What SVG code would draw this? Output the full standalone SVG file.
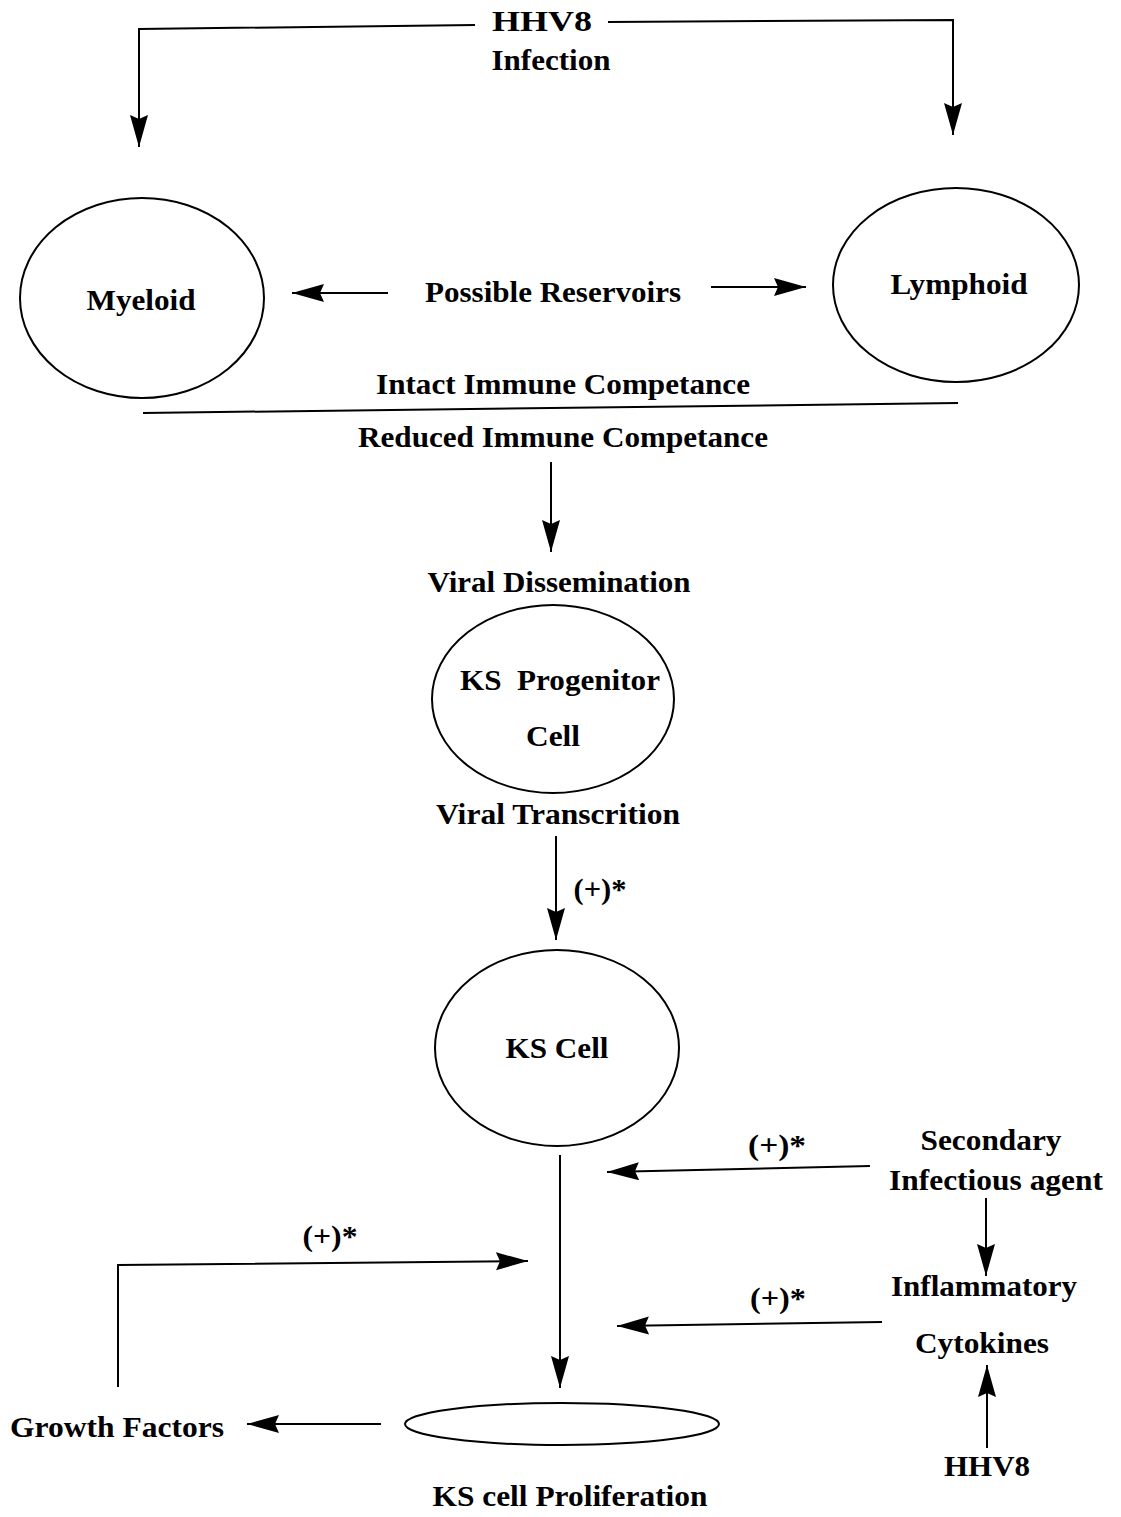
<svg xmlns="http://www.w3.org/2000/svg" width="1121" height="1517" viewBox="0 0 1121 1517">
<style>
text{font-family:"Liberation Serif","Times New Roman",serif;font-weight:bold;font-size:29px;fill:#000;text-anchor:middle}
.c{fill:none;stroke:#000;stroke-width:2}
.n{fill:none;stroke:#000;stroke-width:2}
</style>
<defs>
<marker id="ah" markerUnits="userSpaceOnUse" markerWidth="34" markerHeight="20" refX="32" refY="9" orient="auto">
<path d="M0,0 L32,9 L0,18 L4,9 z" fill="#000"/>
</marker>
</defs>
<rect width="1121" height="1517" fill="#fff"/>

<g id="hhv8-top"><text x="542" y="31" textLength="100" lengthAdjust="spacingAndGlyphs">HHV8</text><text x="551" y="70" textLength="119" lengthAdjust="spacingAndGlyphs">Infection</text></g>
<g id="myeloid"><ellipse class="n" cx="142" cy="298" rx="122" ry="100"/><text x="141" y="310" textLength="109" lengthAdjust="spacingAndGlyphs">Myeloid</text></g>
<g id="lymphoid"><ellipse class="n" cx="956" cy="285" rx="123" ry="97"/><text x="959" y="294" textLength="137" lengthAdjust="spacingAndGlyphs">Lymphoid</text></g>
<g id="reservoirs"><text x="553" y="302" textLength="256" lengthAdjust="spacingAndGlyphs">Possible Reservoirs</text></g>
<g id="intact"><text x="563" y="394" textLength="374" lengthAdjust="spacingAndGlyphs">Intact Immune Competance</text></g>
<g id="reduced"><text x="563" y="447" textLength="410" lengthAdjust="spacingAndGlyphs">Reduced Immune Competance</text></g>
<g id="dissemination"><text x="559" y="592" textLength="263" lengthAdjust="spacingAndGlyphs">Viral Dissemination</text></g>
<g id="progenitor"><ellipse class="n" cx="553" cy="699" rx="121" ry="94"/><text x="560" y="690" textLength="200" lengthAdjust="spacingAndGlyphs" xml:space="preserve">KS  Progenitor</text><text x="553" y="746" textLength="54" lengthAdjust="spacingAndGlyphs">Cell</text></g>
<g id="transcription"><text x="558" y="824" textLength="244" lengthAdjust="spacingAndGlyphs">Viral Transcrition</text></g>
<g id="kscell"><ellipse class="n" cx="557" cy="1048" rx="122" ry="98"/><text x="557" y="1058" textLength="103" lengthAdjust="spacingAndGlyphs">KS Cell</text></g>
<g id="secondary"><text x="991" y="1150" textLength="141" lengthAdjust="spacingAndGlyphs">Secondary</text><text x="996" y="1190" textLength="214" lengthAdjust="spacingAndGlyphs">Infectious agent</text></g>
<g id="inflammatory"><text x="984" y="1296" textLength="186" lengthAdjust="spacingAndGlyphs">Inflammatory</text><text x="982" y="1353" textLength="134" lengthAdjust="spacingAndGlyphs">Cytokines</text></g>
<g id="hhv8-bottom"><text x="987" y="1476" textLength="86" lengthAdjust="spacingAndGlyphs">HHV8</text></g>
<g id="growth"><text x="117" y="1437" textLength="214" lengthAdjust="spacingAndGlyphs">Growth Factors</text></g>
<g id="proliferation"><ellipse class="n" cx="562" cy="1424" rx="157" ry="21"/><text x="570" y="1506" textLength="275" lengthAdjust="spacingAndGlyphs">KS cell Proliferation</text></g>

<g id="connectors">
<path class="c" d="M475,25 L139,29 L139,147" marker-end="url(#ah)"/>
<path class="c" d="M608,22 L953,20 L953,135" marker-end="url(#ah)"/>
<path class="c" d="M388,293 L292,293" marker-end="url(#ah)"/>
<path class="c" d="M711,287 L806,287" marker-end="url(#ah)"/>
<path class="c" d="M143,413 L958,403"/>
<path class="c" d="M551,462 L551,552" marker-end="url(#ah)"/>
<path class="c" d="M556,836 L556,940" marker-end="url(#ah)"/>
<text x="600" y="899" textLength="53" lengthAdjust="spacingAndGlyphs">(+)*</text>
<path class="c" d="M560,1155 L560,1388" marker-end="url(#ah)"/>
<path class="c" d="M870,1166 L607,1172" marker-end="url(#ah)"/>
<text x="777" y="1155" textLength="58" lengthAdjust="spacingAndGlyphs">(+)*</text>
<path class="c" d="M986,1198 L986,1276" marker-end="url(#ah)"/>
<path class="c" d="M882,1322 L617,1326" marker-end="url(#ah)"/>
<text x="778" y="1308" textLength="56" lengthAdjust="spacingAndGlyphs">(+)*</text>
<path class="c" d="M987,1448 L987,1365" marker-end="url(#ah)"/>
<path class="c" d="M118,1387 L118,1265 L528,1261" marker-end="url(#ah)"/>
<text x="330" y="1246" textLength="55" lengthAdjust="spacingAndGlyphs">(+)*</text>
<path class="c" d="M381,1424 L247,1424" marker-end="url(#ah)"/>
</g>
</svg>
